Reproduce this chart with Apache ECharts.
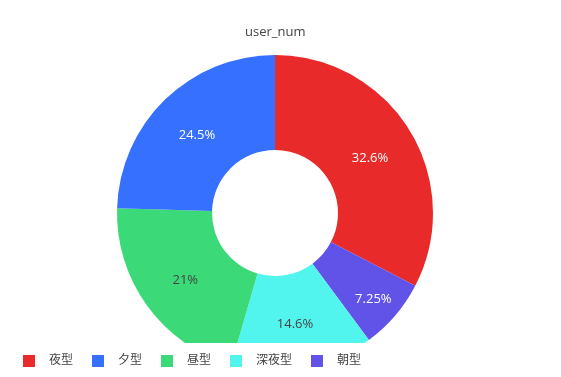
<!DOCTYPE html>
<html>
<head>
<meta charset="utf-8">
<script src="https://cdn.jsdelivr.net/npm/echarts@6/dist/echarts.min.js"></script>
<style>
  html, body { margin: 0; padding: 0; background: #fff; }
  #chart { width: 561px; height: 377px; }
</style>
</head>
<body>
<div id="chart"></div>
<script>
// slices in drawing order (clockwise from 12 o'clock)
var sliceNames = ['夜型', '朝型', '深夜型', '昼型', '夕型'];
var sliceValues = [32.6, 7.25, 14.6, 21, 24.5];
var sliceColors = ['#E82A2A', '#6152E8', '#52F5EE', '#3BD978', '#3670FE'];
var labelColors = ['#fff', '#fff', '#444', '#444', '#fff'];
// legend order as shown
var legendNames = ['夜型', '夕型', '昼型', '深夜型', '朝型'];

var fontFam = '"Open Sans", "Noto Sans CJK JP", sans-serif';
// small nudges so inside labels sit where the original put them
var labelNudge = [[-2, 4], [12, 13], [0, 0], [2, 0], [1, 4]];

var myChart = echarts.init(document.getElementById('chart'));
var seriesData = [];
for (var i = 0; i < sliceNames.length; ++i) {
	seriesData.push({
		name: sliceNames[i],
		value: sliceValues[i],
		itemStyle: { color: sliceColors[i] },
		label: { color: labelColors[i], offset: labelNudge[i] }
	});
}

var option = {
	animation: false,
	title: {
		text: 'user_num',
		left: 245,
		top: 26,
		padding: 0,
		textStyle: { fontSize: 13, fontWeight: 'normal', color: '#444', fontFamily: fontFam }
	},
	legend: {
		data: legendNames,
		left: 18,
		top: 350,
		z: 200,
		itemWidth: 12,
		itemHeight: 12,
		itemGap: 19,
		icon: 'rect',
		textStyle: { fontSize: 12, color: '#444', fontFamily: fontFam, padding: [0, 0, 0, 9] }
	},
	graphic: [{
		type: 'rect',
		z: 100,
		shape: { x: 0, y: 343, width: 561, height: 40 },
		style: { fill: '#fff' }
	}],
	series: [{
		name: 'user_num',
		type: 'pie',
		center: [275, 213],
		radius: [63, 158],
		startAngle: 90,
		clockwise: true,
		avoidLabelOverlap: false,
		label: {
			show: true,
			position: 'inside',
			formatter: '{c}%',
			fontSize: 13,
			fontFamily: fontFam
		},
		labelLine: { show: false },
		emphasis: { disabled: true },
		data: seriesData
	}]
};
myChart.setOption(option);
</script>
</body>
</html>
